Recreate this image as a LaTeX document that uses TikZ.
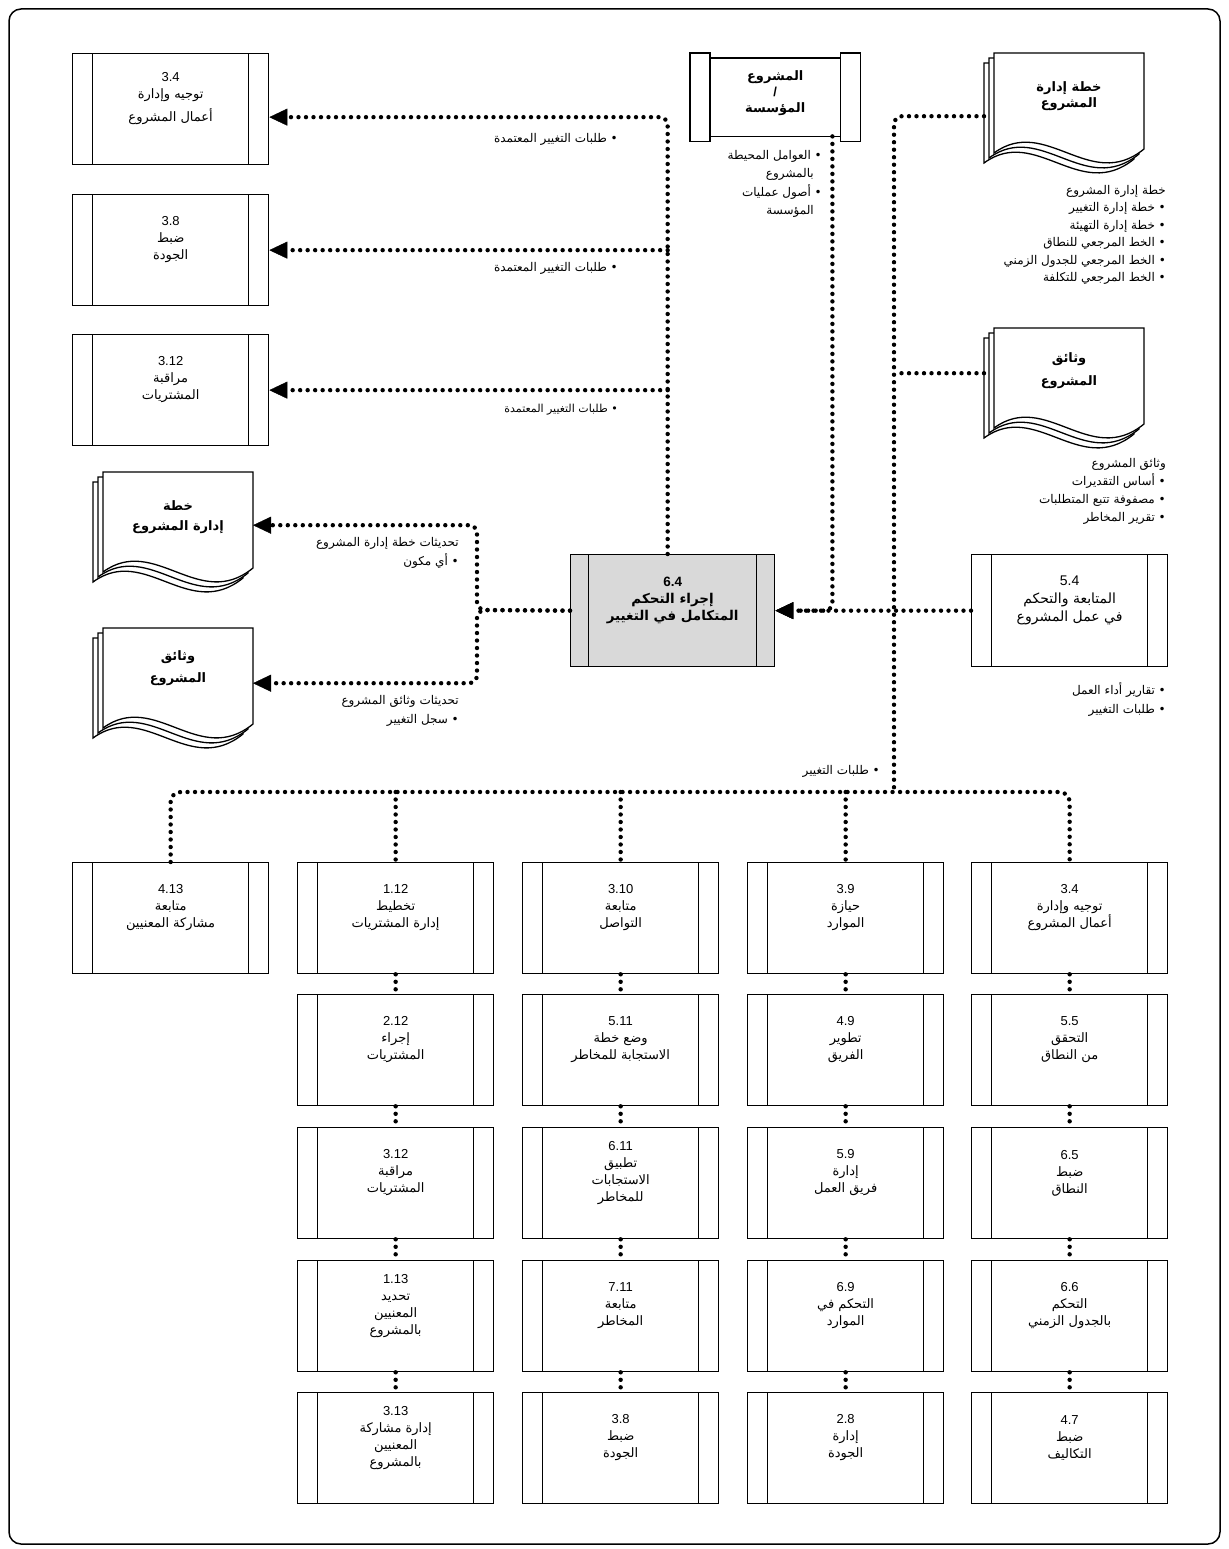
\documentclass[tikz,border=0pt]{standalone}
\usepackage{fontspec}
\setmainfont{Liberation Sans}
\newfontfamily\arabicfont[Script=Arabic]{DejaVu Sans}
\TeXXeTstate=1
\usetikzlibrary{arrows.meta,calc}
\newcommand\ar[1]{{\arabicfont\beginR #1\endR}}
% keep the line pitch fixed even for tall Arabic lines
\lineskiplimit=-20pt

% three stacked sheets of a document, front sheet top-left at (#1,#2)
\newcommand\docsheets[2]{%
  \foreach \o in {10,5,0}{%
    \filldraw[docline] ({#1-\o},{#2+\o}) -- ({#1+150-\o},{#2+\o}) -- ({#1+150-\o},{#2+\o+96})
      .. controls ({#1+96-\o},{#2+\o+140}) and ({#1+52-\o},{#2+\o+62}) .. ({#1-\o},{#2+\o+100}) -- cycle;}}

% process box with its caption
\newcommand\pbox[4]{%
  \node[procbox] (#1) at (#2,#3) {};
  \node[boxtext] (#1t) at ([yshift=-46pt]#1.north) {#4};}

\begin{document}
\begin{tikzpicture}[x=1pt,y=-1pt,
  dots/.style={line width=4.4pt, line cap=round, dash pattern=on 0pt off 7.5pt},
  tip/.style={-{Triangle[length=18pt,width=17pt,line width=0.4pt]}},
  boxline/.style={line width=1.3pt},
  docline/.style={line width=1.3pt, fill=white},
  procbox/.style={draw, line width=1.3pt, fill=white, minimum width=196pt, minimum height=111pt,
    inner sep=0pt, anchor=north west,
    path picture={\draw[line width=1.3pt]
      ([xshift=20pt]path picture bounding box.north west) -- ([xshift=20pt]path picture bounding box.south west)
      ([xshift=-20pt]path picture bounding box.north east) -- ([xshift=-20pt]path picture bounding box.south east);}},
  boxtext/.style={align=center, inner sep=0pt, font=\fontsize{13}{17}\selectfont},
  doctext/.style={align=center, inner sep=0pt, font=\fontsize{13}{20}\selectfont},
  lab/.style={align=right, inner sep=0pt, anchor=north east, font=\fontsize{12}{18.5}\selectfont},
  anchorbox/.style={inner sep=0pt, anchor=north west}
]
\useasboundingbox (0,0) rectangle (1228,1549);
\draw[line width=1.5pt, rounded corners=12pt] (9,9) rectangle (1220,1544);

% ---------- outputs on the left ----------
\pbox{L1}{72}{53}{3.4\\\ar{توجيه وإدارة}\\[6pt]\ar{أعمال المشروع}}
\pbox{L2}{72}{194}{3.8\\\ar{ضبط}\\\ar{الجودة}}
\pbox{L3}{72}{334}{3.12\\\ar{مراقبة}\\\ar{المشتريات}}

% ---------- enterprise / organization ----------
\node[anchorbox, minimum width=170pt, minimum height=88pt] (E) at (690,53) {};
\draw[boxline] (E.north west) rectangle ([xshift=20pt]E.south west);
\draw[boxline] (E.north east) rectangle ([xshift=-20pt]E.south east);
\draw[boxline] ([xshift=20pt,yshift=-5pt]E.north west) rectangle ([xshift=-20pt,yshift=5pt]E.south east);
\node[align=center, inner sep=0pt, font=\fontsize{13}{16}\selectfont\bfseries] (Et) at ([yshift=4pt]E.center)
  {\ar{المشروع}\\/\\\ar{المؤسسة}};

% ---------- project documents (right) ----------
\docsheets{994}{53}
\node[anchorbox, minimum width=160pt, minimum height=126pt] (P1) at (984,53) {};
\node[doctext, font=\fontsize{13}{16}\selectfont\bfseries] (P1t) at (1069,96) {\ar{خطة إدارة}\\\ar{المشروع}};
\docsheets{994}{328}
\node[anchorbox, minimum width=160pt, minimum height=90pt] (P2) at (984,328) {};
\node[doctext, font=\fontsize{13}{23}\selectfont\bfseries] (P2t) at (1069,371) {\ar{وثائق}\\\ar{المشروع}};

% ---------- project documents (left) ----------
\docsheets{103}{472}
\node[anchorbox, minimum width=160pt, minimum height=106pt, anchor=north east] (D1) at (253,472) {};
\node[doctext, font=\fontsize{13}{20}\selectfont\bfseries] (D1t) at (178,517) {\ar{خطة}\\\ar{إدارة المشروع}};
\docsheets{103}{628}
\node[anchorbox, minimum width=160pt, minimum height=110pt, anchor=north east] (D2) at (253,628) {};
\node[doctext, font=\fontsize{13}{22}\selectfont\bfseries] (D2t) at (178,668) {\ar{وثائق}\\\ar{المشروع}};

% ---------- central process ----------
\node[procbox, fill=gray!30, minimum width=204pt, minimum height=112pt,
  path picture={\draw[line width=1.3pt]
      ([xshift=18pt]path picture bounding box.north west) -- ([xshift=18pt]path picture bounding box.south west)
      ([xshift=-18pt]path picture bounding box.north east) -- ([xshift=-18pt]path picture bounding box.south east);}]
  (C) at (570,554) {};
\node[boxtext, font=\fontsize{13.5}{17}\selectfont\bfseries] (Ct) at ([yshift=-46pt]C.north)
  {6.4\\\ar{إجراء التحكم}\\\ar{المتكامل في التغيير}};

\node[procbox, minimum height=112pt] (M) at (971,554) {};
\node[boxtext, font=\fontsize{14}{18}\selectfont] (Mt) at ([yshift=-46pt]M.north)
  {5.4\\\ar{المتابعة والتحكم}\\\ar{في عمل المشروع}};

% ---------- grid of related processes ----------
\pbox{B11}{72}{862}{4.13\\\ar{متابعة}\\\ar{مشاركة المعنيين}}

\pbox{B21}{297}{862}{1.12\\\ar{تخطيط}\\\ar{إدارة المشتريات}}
\pbox{B22}{297}{994}{2.12\\\ar{إجراء}\\\ar{المشتريات}}
\pbox{B23}{297}{1127}{3.12\\\ar{مراقبة}\\\ar{المشتريات}}
\pbox{B24}{297}{1260}{1.13\\\ar{تحديد}\\\ar{المعنيين}\\\ar{بالمشروع}}
\pbox{B25}{297}{1392}{3.13\\\ar{إدارة مشاركة}\\\ar{المعنيين}\\\ar{بالمشروع}}

\pbox{B31}{522}{862}{3.10\\\ar{متابعة}\\\ar{التواصل}}
\pbox{B32}{522}{994}{5.11\\\ar{وضع خطة}\\\ar{الاستجابة للمخاطر}}
\pbox{B33}{522}{1127}{6.11\\\ar{تطبيق}\\\ar{الاستجابات}\\\ar{للمخاطر}}
\pbox{B34}{522}{1260}{7.11\\\ar{متابعة}\\\ar{المخاطر}}
\pbox{B35}{522}{1392}{3.8\\\ar{ضبط}\\\ar{الجودة}}

\pbox{B41}{747}{862}{3.9\\\ar{حيازة}\\\ar{الموارد}}
\pbox{B42}{747}{994}{4.9\\\ar{تطوير}\\\ar{الفريق}}
\pbox{B43}{747}{1127}{5.9\\\ar{إدارة}\\\ar{فريق العمل}}
\pbox{B44}{747}{1260}{6.9\\\ar{التحكم في}\\\ar{الموارد}}
\pbox{B45}{747}{1392}{2.8\\\ar{إدارة}\\\ar{الجودة}}

\pbox{B51}{971}{862}{3.4\\\ar{توجيه وإدارة}\\\ar{أعمال المشروع}}
\pbox{B52}{971}{994}{5.5\\\ar{التحقق}\\\ar{من النطاق}}
\pbox{B53}{971}{1127}{6.5\\\ar{ضبط}\\\ar{النطاق}}
\pbox{B54}{971}{1260}{6.6\\\ar{التحكم}\\\ar{بالجدول الزمني}}
\pbox{B55}{971}{1392}{4.7\\\ar{ضبط}\\\ar{التكاليف}}

% ---------- junctions ----------
\coordinate (J) at (894,792);
\coordinate (JL) at (477,610);

% ---------- connectors ----------
\draw[dots, tip, rounded corners=8pt] ([xshift=-5pt]C.north) |- ([yshift=-8pt]L1.east);
\draw[dots, tip] ([xshift=-5pt]C.north |- L2.east) -- (L2.east);
\draw[dots, tip] ([xshift=-5pt]C.north |- L3.east) -- (L3.east);

\draw[dots, tip, rounded corners=8pt] (C.west) -- (JL) |- (D1.east);
\draw[dots, tip, rounded corners=8pt] (C.west) -- (JL) |- (D2.east);

\draw[dots, tip, rounded corners=8pt] ([xshift=-28pt,yshift=5pt]E.south east) |- (C.east);
\draw[dots, rounded corners=8pt] (P1.west) -| (J);
\draw[dots] (P2.west) -- (P2.west -| J);
\draw[dots, tip] (M.west) -- (C.east);

\draw[dots, rounded corners=10pt] (B11.north) |- (J) -| (B51.north);
\foreach \c in {2,3,4}{\draw[dots] (B\c1.north |- J) -- (B\c1.north);}
\foreach \c in {2,3,4,5}{
  \foreach \r/\s in {1/2,2/3,3/4,4/5}{\draw[dots] (B\c\r.south) -- (B\c\s.north);}}

% ---------- labels ----------
\node[lab] (a1) at (618,133) {\ar{• طلبات التغيير المعتمدة}};
\node[lab] (a2) at (618,262) {\ar{• طلبات التغيير المعتمدة}};
\node[lab, font=\fontsize{11}{16}\selectfont] (a3) at (618,404) {\ar{• طلبات التغيير المعتمدة}};

\node[lab] (e1) at (822,150) {\ar{• العوامل المحيطة}\\\ar{\hspace*{8pt}بالمشروع}\\\ar{• أصول عمليات}\\\ar{\hspace*{8pt}المؤسسة}};

\node[lab, font=\fontsize{12}{17.5}\selectfont] (p1l) at (1166,185)
  {\ar{خطة إدارة المشروع}\\\ar{• خطة إدارة التغيير}\\\ar{• خطة إدارة التهيئة}\\\ar{• الخط المرجعي للنطاق}\\\ar{• الخط المرجعي للجدول الزمني}\\\ar{• الخط المرجعي للتكلفة}};
\node[lab, font=\fontsize{12}{18}\selectfont] (p2l) at (1166,458)
  {\ar{وثائق المشروع}\\\ar{• أساس التقديرات}\\\ar{• مصفوفة تتبع المتطلبات}\\\ar{• تقرير المخاطر}};
\node[lab, font=\fontsize{12}{19}\selectfont] (ml) at (1166,682)
  {\ar{• تقارير أداء العمل}\\\ar{• طلبات التغيير}};

\node[lab, font=\fontsize{12}{19}\selectfont] (d1l) at (459,537)
  {\ar{تحديثات خطة إدارة المشروع}\\\ar{• أي مكون}};
\node[lab, font=\fontsize{12}{19}\selectfont] (d2l) at (459,695)
  {\ar{تحديثات وثائق المشروع}\\\ar{• سجل التغيير}};

\node[lab, anchor=east] (bl) at (880,771) {\ar{• طلبات التغيير}};
\end{tikzpicture}
\end{document}
